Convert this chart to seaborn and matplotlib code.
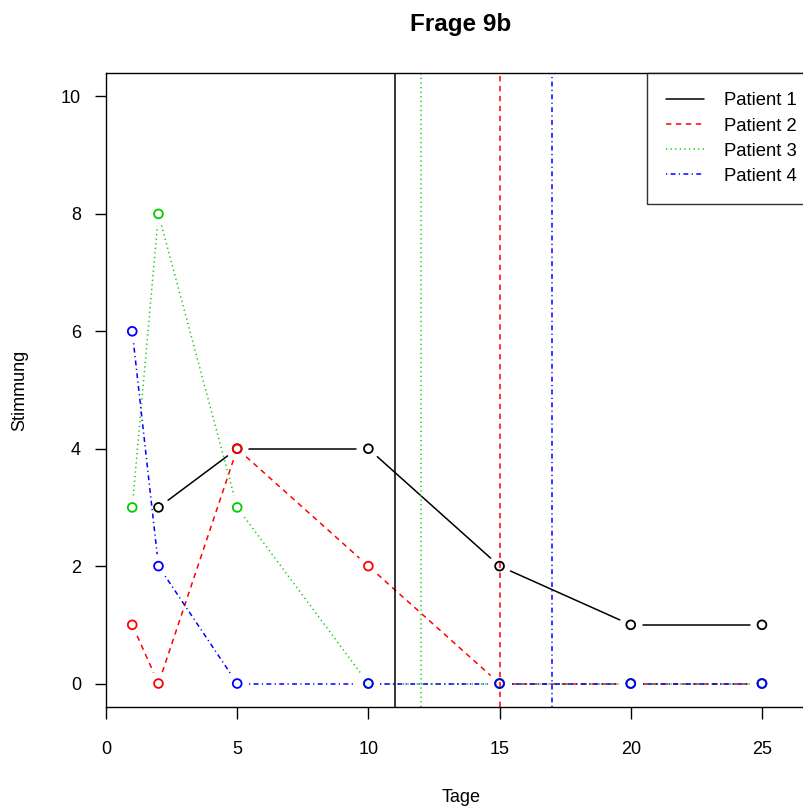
import numpy as np
import pandas as pd
import matplotlib
matplotlib.use("Agg")
import matplotlib.pyplot as plt
from matplotlib.lines import Line2D
import seaborn as sns

# data
patients = ["Patient 1", "Patient 2", "Patient 3", "Patient 4"]
days_p1 = [2, 5, 10, 15, 20, 25]
mood_p1 = [3, 4, 4, 2, 1, 1]
days_p2 = [1, 2, 5, 10, 15, 20, 25]
mood_p2 = [1, 0, 4, 2, 0, 0, 0]
days_p3 = [1, 2, 5, 10, 15, 20, 25]
mood_p3 = [3, 8, 3, 0, 0, 0, 0]
days_p4 = [1, 2, 5, 10, 15, 20, 25]
mood_p4 = [6, 2, 0, 0, 0, 0, 0]
end_days = [11, 15, 12, 17]   # vertical lines per patient

colors = ["black", "#FF0000", "#00CD00", "#0000FF"]
styles = ["-", (0, (3.5, 3)), (0, (0.8, 2.2)), (0, (0.8, 2.2, 3.2, 2.2))]

rows = []
for name, xs, ys in zip(patients, [days_p1, days_p2, days_p3, days_p4],
                        [mood_p1, mood_p2, mood_p3, mood_p4]):
    for x, y in zip(xs, ys):
        rows.append({"Patient": name, "Tage": x, "Stimmung": y})
df = pd.DataFrame(rows)

sns.set_theme(style="white")
plt.rcParams["font.family"] = ["Liberation Sans", "DejaVu Sans"]

fig = plt.figure(figsize=(8.04, 8.10), dpi=100)
ax = fig.add_axes([106 / 804, 1 - 707 / 810, 710 / 804, 634 / 810])
ax.set_xlim(0, 27.06)
ax.set_ylim(-0.4, 10.4)

# lines with gaps around the points (like R type="b"), then open circles
gap = 12.0
for (name, grp), col, ls in zip(df.groupby("Patient", sort=False), colors, styles):
    pts = ax.transData.transform(grp[["Tage", "Stimmung"]].to_numpy(float))
    for p0, p1 in zip(pts[:-1], pts[1:]):
        d = p1 - p0
        L = np.hypot(*d)
        if L <= 2 * gap:
            continue
        a = p0 + d / L * gap
        b = p1 - d / L * gap
        seg = ax.transData.inverted().transform(np.array([a, b]))
        ax.plot(seg[:, 0], seg[:, 1], color=col, linestyle=ls, lw=1.1)
    sns.scatterplot(data=grp, x="Tage", y="Stimmung", marker="o", s=40,
                    facecolors="none", edgecolors=col, linewidth=1.3,
                    legend=False, ax=ax, zorder=3)

for xv, col, ls in zip(end_days, colors, styles):
    ax.axvline(xv, color=col, linestyle=ls, lw=1.1)

ax.set_xticks([0, 5, 10, 15, 20, 25])
ax.set_yticks([0, 2, 4, 6, 8, 10])
ax.tick_params(axis="x", length=8.6, width=1, pad=16, labelsize=13,
               color="black", bottom=True, labelcolor="black")
ax.tick_params(axis="y", length=8, width=1, pad=10, labelsize=13,
               color="black", left=True, labelcolor="black")
for sp in ax.spines.values():
    sp.set_visible(True)
    sp.set_color("black")
    sp.set_linewidth(1)
ax.set_xlabel("")
ax.set_ylabel("")
ax.grid(False)

fig.text(461 / 804, 1 - 25 / 810, "Frage 9b", ha="center", va="center",
         fontsize=17.5, fontweight="bold", color="black")
fig.text(461 / 804, 1 - 798 / 810, "Tage", ha="center", va="center",
         fontsize=13, color="black")
fig.text(20 / 804, 1 - 390 / 810, "Stimmung", ha="center", va="center",
         rotation=90, fontsize=13, color="black")

handles = [Line2D([], [], color=c, linestyle=s, lw=1.1)
           for c, s in zip(colors, styles)]
leg = ax.legend(handles, patients, loc="upper left",
                bbox_to_anchor=((647 - 106) / 710, 1), borderaxespad=0,
                frameon=True, fancybox=False, fontsize=13.3,
                handlelength=2.05, handletextpad=1.08, labelspacing=0.44,
                borderpad=1.05)
leg.get_frame().set_edgecolor("black")
leg.get_frame().set_linewidth(1)
for t in leg.get_texts():
    t.set_color("black")

fig.savefig("out.png", dpi=100)
